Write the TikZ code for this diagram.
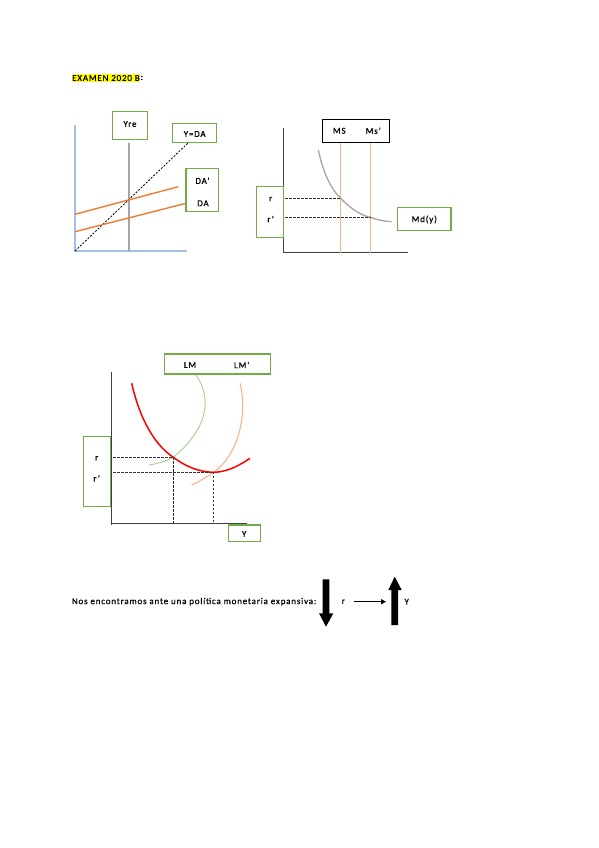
\documentclass[tikz,border=0pt]{standalone}
\usepackage{fontspec}
\setmainfont{Carlito}[LetterSpace=9,FakeBold=0.6]
\usetikzlibrary{arrows.meta}
\definecolor{boxgreen}{RGB}{112,173,71}
\definecolor{axisblue}{RGB}{165,190,232}
\definecolor{dorange}{RGB}{237,125,49}
\definecolor{lorange}{RGB}{246,180,140}
\definecolor{lgreen}{RGB}{165,208,138}
\definecolor{cgray}{RGB}{165,165,165}
\definecolor{hlyellow}{RGB}{255,255,0}
\begin{document}
\begin{tikzpicture}[x=1pt,y=-1pt,
  box/.style={draw=boxgreen,line width=1.1pt,fill=white,inner sep=0pt},
  bbox/.style={draw=black,line width=1.1pt,fill=white,inner sep=0pt},
  lbl/.style={font=\fontsize{9}{10}\selectfont,inner sep=0pt},
  axis/.style={draw=black!75,line width=0.8pt},
  guide/.style={draw=black!80,dashed,dash pattern=on 2.5pt off 1.5pt,line width=0.7pt}]
\useasboundingbox[fill=white] (0,0) rectangle (599,848);

% title
\node[fill=hlyellow,inner xsep=0.5pt,inner ysep=1.5pt,anchor=west,font=\fontsize{9}{10}\selectfont] (title) at (71.5,78) {EXAMEN 2020 B};
\node[anchor=west,inner sep=0pt,font=\fontsize{9}{10}\selectfont] (colon) at (title.east) {:};

% ---------- graph 1: Keynesian cross ----------
\coordinate (o1) at (75,251);
\draw[axisblue,line width=1.3pt] (75,125) -- (o1) -- (187,251);
\draw[cgray,line width=1.3pt] (129,142.7) -- (129,251);
\coordinate (dl) at (187.7,143.3);
\draw[black,dashed,dash pattern=on 2pt off 1.5pt,line width=0.8pt] (o1) -- (dl);
\draw[dorange,line width=1.4pt] (75,214.3) -- (178.3,186.7);
\draw[dorange,line width=1.4pt] (75,231.7) -- (186,203.3);
\node[box,minimum width=34.6pt,minimum height=27.6pt] (yre) at (130,125.5) {};
\node[lbl] (yret) at (130,124) {Yre};
\node[box,minimum width=44pt,minimum height=19.4pt] (yda) at (194.7,133) {};
\node[lbl] (ydat) at (194.7,134) {Y=DA};
\node[box,minimum width=32.7pt,minimum height=43.4pt] (dabox) at (202.3,190) {};
\node[lbl] (da1) at (202.5,180.7) {DA’};
\node[lbl] (da2) at (203,203.3) {DA};

% ---------- graph 2: money market ----------
\coordinate (o2) at (283.3,252.7);
\draw[axis] (283.3,128.3) -- (o2) -- (408.3,252.7);
\draw[lorange,line width=1.1pt] (340.7,142) -- (340.7,252.7);
\draw[lorange,line width=1.1pt] (370.7,142) -- (370.7,252.7);
\coordinate (e1) at (340.7,198.3);
\coordinate (e2) at (370.7,217.5);
\draw[cgray,line width=1.3pt] (318.3,150) .. controls (324,176) and (332,190) .. (e1)
   .. controls (350,208) and (360,215) .. (e2) .. controls (378,220) and (385,221.5) .. (391.7,221.7);
\node[box,minimum width=26.6pt,minimum height=50.6pt] (rbox2) at (270,212) {};
\node[lbl] (r2a) at (270.7,199) {r};
\node[lbl] (r2b) at (270.7,219) {r’};
\draw[guide] (rbox2.east |- e1) ++(1.5,0) -- (e1);
\draw[guide] (rbox2.east |- e2) ++(1.5,0) -- (e2);
\node[bbox,minimum width=67pt,minimum height=23pt] (msbox) at (355.8,130.8) {};
\node[lbl] (ms1) at (339.3,130.8) {MS};
\node[lbl] (ms2) at (373.3,130.8) {Ms’};
\node[box,minimum width=53.3pt,minimum height=23.4pt] (mdbox) at (424.3,219) {};
\node[lbl] (mdt) at (424.3,219.5) {Md(y)};

% ---------- graph 3: IS-LM ----------
\coordinate (o3) at (111.7,523.3);
\draw[axis] (111.7,371.7) -- (111.7,525);
\draw[axis] (111.7,523.3) -- (246.7,523.3);
\coordinate (A) at (173.3,457.3);
\coordinate (B) at (213.7,472.3);
\draw[lgreen,line width=0.9pt] (196,375) .. controls (210,395) and (212,425) .. (A)
   .. controls (165,462) and (155,464) .. (149,465);
\draw[lorange,line width=1.1pt] (240,383.3) .. controls (248,415) and (238,455) .. (B)
   .. controls (205,478) and (198,482) .. (191.7,485);
\draw[red,line width=1.5pt] (131.7,383.3) .. controls (140,420) and (155,445) .. (A)
   .. controls (185,466) and (198,472) .. (B) .. controls (228,472) and (240,465) .. (250,458.3);
\node[box,minimum width=27.4pt,minimum height=70pt] (rbox3) at (97,471.7) {};
\node[lbl] (r3a) at (96.7,458.3) {r};
\node[lbl] (r3b) at (96.7,478.3) {r’};
\draw[guide] (rbox3.east |- A) ++(2,0) -- (A) -- (A |- o3);
\draw[guide] (rbox3.east |- B) ++(2,0) -- (B) -- (B |- o3);
\node[box,minimum width=105.7pt,minimum height=20pt] (lmbox) at (217.2,364) {};
\node[lbl] (lm1) at (190,365) {LM};
\node[lbl] (lm2) at (241.7,365) {LM’};
\node[box,minimum width=31.7pt,minimum height=16.7pt] (ybox) at (244.2,533.3) {};
\node[lbl] (yt) at (244.2,534) {Y};

% ---------- conclusion ----------
\node[anchor=west,inner sep=0pt,font=\fontsize{9}{10}\selectfont] (sent) at (71.7,601.7) {Nos encontramos ante una política monetaria expansiva:};
\fill[black] (322.7,579.3) -- (329.3,579.3) -- (329.3,613.3) -- (333.3,613.3) -- (326,626.7) -- (319,613.3) -- (322.7,613.3) -- cycle;
\node[lbl] (rr) at (343.3,601.7) {r};
\coordinate (arA) at (354.3,601.7);
\coordinate (arB) at (386,601.7);
\draw[line width=1.2pt,-{Triangle[length=5pt,width=5pt]}] (arA) -- (arB);
\fill[black] (391.3,625) -- (398,625) -- (398,590) -- (401.7,590) -- (394.7,576.7) -- (388.3,590) -- (391.3,590) -- cycle;
\node[lbl] (yy) at (406.7,601.7) {Y};
\end{tikzpicture}
\end{document}
